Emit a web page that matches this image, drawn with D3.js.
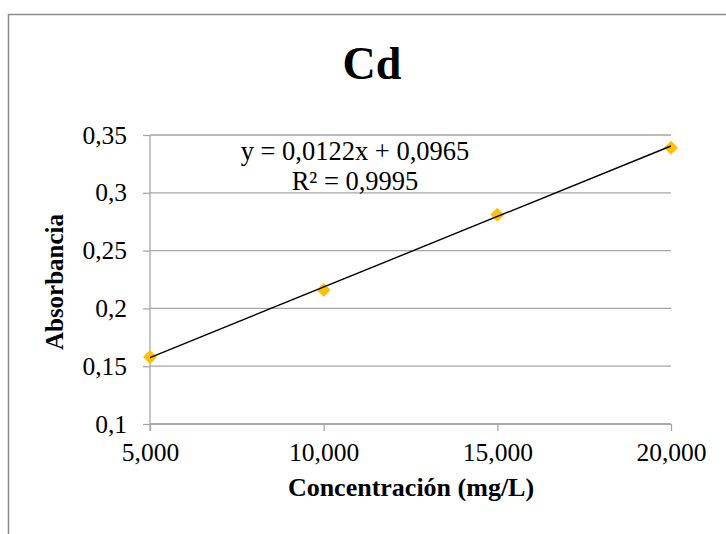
<!DOCTYPE html>
<html lang="es">
<head>
    <meta charset="UTF-8">
    <title>Cd</title>
    <style>
        body{
            margin: 0;
            background: #fff;
        }
        svg{
            display: block;
        }
        svg text{
            font-family: "Times New Roman", "Liberation Serif", Tinos, "DejaVu Serif", serif !important;
            fill: #000;
        }
    </style>
    <script src="https://cdn.jsdelivr.net/npm/d3@7"></script>
</head>
<body>
<script>
    const width = 726
    const height = 534

    // data
    const concentracion = [5, 10, 15, 20]
    const absorbancia = [0.158, 0.216, 0.281, 0.339]
    const xTicks = [5, 10, 15, 20]
    const yTicks = [0.1, 0.15, 0.2, 0.25, 0.3, 0.35]
    const slope = 0.0122
    const intercept = 0.0965
    const eqLines = ["y = 0,0122x + 0,0965", "R² = 0,9995"]

    const locale = d3.formatLocale({decimal: ",", thousands: ".", grouping: [3], currency: ["", ""]})
    const fmtX = locale.format(".3f")
    const fmtY = locale.format(".2~f")

    let svg = d3.select("body").append("svg")
        .attr("width", width)
        .attr("height", height)

    // outer chart border
    svg.append("rect")
        .attr("x", 8.5).attr("y", 14.5)
        .attr("width", 800).attr("height", 600)
        .attr("fill", "none")
        .attr("stroke", "#8c8c8c")
        .attr("stroke-width", 1.5)

    const x = d3.scaleLinear().domain([5, 20]).range([150, 671])
    const y = d3.scaleLinear().domain([0.1, 0.35]).range([424, 135])

    // horizontal gridlines
    svg.append("g").selectAll("line")
        .data(yTicks)
        .enter()
        .append("line")
        .attr("x1", x(5)).attr("x2", x(20))
        .attr("y1", d => y(d)).attr("y2", d => y(d))
        .attr("stroke", "#a6a6a6")
        .attr("stroke-width", 1.3)

    // y axis
    let gy = svg.append("g")
        .attr("transform", `translate(${x(5)},0)`)
        .call(d3.axisLeft(y).tickValues(yTicks).tickFormat(fmtY).tickSize(7).tickPadding(16))
    gy.select(".domain").attr("stroke", "#a6a6a6").attr("stroke-width", 1.3)
        .attr("d", `M0,${y(0.35)}V${y(0.1) + 7}`)
    gy.selectAll(".tick line").attr("stroke", "#a6a6a6").attr("stroke-width", 1.3)
    gy.selectAll(".tick text").attr("font-size", 25.5)

    // x axis
    let gx = svg.append("g")
        .attr("transform", `translate(0,${y(0.1)})`)
        .call(d3.axisBottom(x).tickValues(xTicks).tickFormat(fmtX).tickSize(7).tickPadding(12))
    gx.select(".domain").attr("stroke", "#a6a6a6").attr("stroke-width", 1.3)
        .attr("d", `M${x(5)},0H${x(20)}`)
    gx.selectAll(".tick line").attr("stroke", "#a6a6a6").attr("stroke-width", 1.3)
    gx.selectAll(".tick text").attr("font-size", 25.5)

    // points
    const pts = concentracion.map((c, i) => ({c: c, a: absorbancia[i]}))
    svg.append("g").selectAll("path")
        .data(pts)
        .enter()
        .append("path")
        .attr("d", "M0,-7L7,0L0,7L-7,0Z")
        .attr("transform", d => `translate(${x(d.c)},${y(d.a)})`)
        .attr("fill", "#ffc000")

    // linear trendline
    const xr = d3.extent(concentracion)
    svg.append("line")
        .attr("x1", x(xr[0])).attr("y1", y(slope * xr[0] + intercept))
        .attr("x2", x(xr[1])).attr("y2", y(slope * xr[1] + intercept))
        .attr("stroke", "#000")
        .attr("stroke-width", 1.4)

    // equation label
    svg.append("g").selectAll("text")
        .data(eqLines)
        .enter()
        .append("text")
        .attr("x", 355)
        .attr("y", (d, i) => 160 + i * 30)
        .attr("text-anchor", "middle")
        .attr("font-size", 26.5)
        .text(d => d)

    // titles
    svg.append("text")
        .attr("x", 372).attr("y", 79)
        .attr("text-anchor", "middle")
        .attr("font-size", 46)
        .attr("font-weight", "bold")
        .text("Cd")

    svg.append("text")
        .attr("x", 411).attr("y", 496)
        .attr("text-anchor", "middle")
        .attr("font-size", 26)
        .attr("font-weight", "bold")
        .text("Concentración (mg/L)")

    svg.append("text")
        .attr("transform", "translate(63,282) rotate(-90)")
        .attr("text-anchor", "middle")
        .attr("font-size", 25)
        .attr("font-weight", "bold")
        .text("Absorbancia")
</script>
</body>
</html>
